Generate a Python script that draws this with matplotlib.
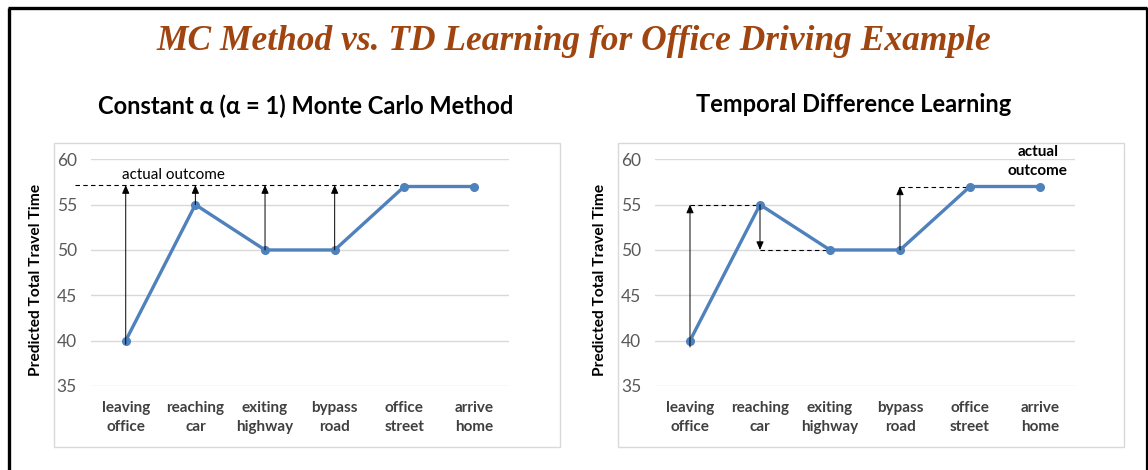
import matplotlib
matplotlib.use("Agg")
import matplotlib.pyplot as plt
from matplotlib.lines import Line2D
from matplotlib.patches import Rectangle

# Data
stages = ["leaving\noffice", "reaching\ncar", "exiting\nhighway", "bypass\nroad",
          "office\nstreet", "arrive\nhome"]
predicted = [40, 55, 50, 50, 57, 57]
y_ticks = [35, 40, 45, 50, 55, 60]

title = "MC Method vs. TD Learning for Office Driving Example"
mc_title = "Constant \u03b1 (\u03b1 = 1) Monte Carlo Method"
td_title = "Temporal Difference Learning"
y_label = "Predicted Total Travel Time"
outcome_label = "actual outcome"

W, H = 1148, 470
BLUE = "#4F81BD"
GRID = "#D9D9D9"
FONT = "Lato"

fig = plt.figure(figsize=(W / 100, H / 100), dpi=100)
fig.patch.set_facecolor("white")


def fx(px):
    return px / W


def fy(py):
    return 1 - py / H


# outer frame (open at the bottom)
for xs, ys, lw in [((8, 1147), (8, 8), 2.4),
                   ((9, 9), (8, 470), 2.4),
                   ((1146.5, 1146.5), (8, 470), 1.6)]:
    fig.add_artist(Line2D([fx(x) for x in xs], [fy(y) for y in ys],
                          color="black", lw=lw, solid_capstyle="butt"))

# chart frames
for x0 in (54, 618):
    fig.add_artist(Rectangle((fx(x0), fy(447)), fx(506), (447 - 143) / H,
                             fill=False, edgecolor=GRID, lw=1.0))

fig.text(0.5, fy(41), title, ha="center", va="center", fontsize=25.5,
         family="Liberation Serif", style="italic", weight="bold",
         color="#A0450F")

fig.text(fx(306), fy(106), mc_title, ha="center", va="center",
         fontsize=17, weight="bold", family=FONT, color="black")
fig.text(fx(854), fy(104), td_title, ha="center", va="center",
         fontsize=17, weight="bold", family=FONT, color="black")


def setup(ax, ylab_x):
    ax.set_xlim(-0.5, len(stages) - 0.5)
    ax.set_ylim(35, 60)
    ax.set_yticks(y_ticks)
    ax.set_xticks(range(len(stages)))
    ax.set_xticklabels(stages, fontsize=11, weight="bold", family=FONT,
                       color="#404040", linespacing=1.45)
    ax.tick_params(axis="y", labelsize=12.5, labelcolor="#595959", length=0,
                   pad=10)
    for lab in ax.get_yticklabels():
        lab.set_family(FONT)
    ax.tick_params(axis="x", length=0, pad=11)
    for s in ax.spines.values():
        s.set_visible(False)
    ax.grid(axis="y", color=GRID, lw=1.0)
    ax.set_axisbelow(True)
    ax.set_facecolor("none")
    ax.plot(range(len(predicted)), predicted, color=BLUE, lw=2.4,
            marker="o", ms=5.5, clip_on=False, zorder=3)
    fig.text(fx(ylab_x), fy(280), y_label, rotation=90, ha="center",
             va="center", fontsize=11.2, weight="bold", family=FONT,
             color="black")


def arrow(ax, x, y0, y1):
    ax.annotate("", xy=(x, y1), xytext=(x, y0),
                arrowprops=dict(arrowstyle="-|>,head_length=0.5,head_width=0.22",
                                color="black", lw=0.7, shrinkA=0, shrinkB=0),
                zorder=4, annotation_clip=False)


def dashed(ax, x0, x1, y):
    ax.plot([x0, x1], [y, y], color="black", lw=0.8, dashes=(4, 3),
            clip_on=False, zorder=2)


bottom = fy(386)
height = (386 - 159.3) / H
ax1 = fig.add_axes([fx(90.9), bottom, fx(417.9), height])
ax2 = fig.add_axes([fx(655), bottom, fx(420), height])
setup(ax1, 36)
setup(ax2, 600)

# Monte Carlo: every estimate moves toward the final outcome
outcome = predicted[-1]
dashed(ax1, -0.73, 4, outcome + 0.15)
for i in range(4):
    arrow(ax1, i, predicted[i] - 0.4 * (i == 0), outcome + 0.15)
ax1.text(-0.05, outcome + 0.45, outcome_label, fontsize=11, family=FONT,
         color="black", va="bottom", ha="left")

# TD: each estimate moves toward the next estimate
for i in range(len(predicted) - 1):
    nxt = predicted[i + 1]
    if nxt != predicted[i]:
        arrow(ax2, i, predicted[i] - 0.7 * (i == 0), nxt)
        dashed(ax2, i, i + 1, nxt)
ax2.text(len(stages) - 1 - 0.03, outcome + 0.9, "actual\noutcome", fontsize=11,
         weight="bold", family=FONT, color="black", ha="center", va="bottom",
         linespacing=1.5)

fig.savefig("out.png", dpi=100)
